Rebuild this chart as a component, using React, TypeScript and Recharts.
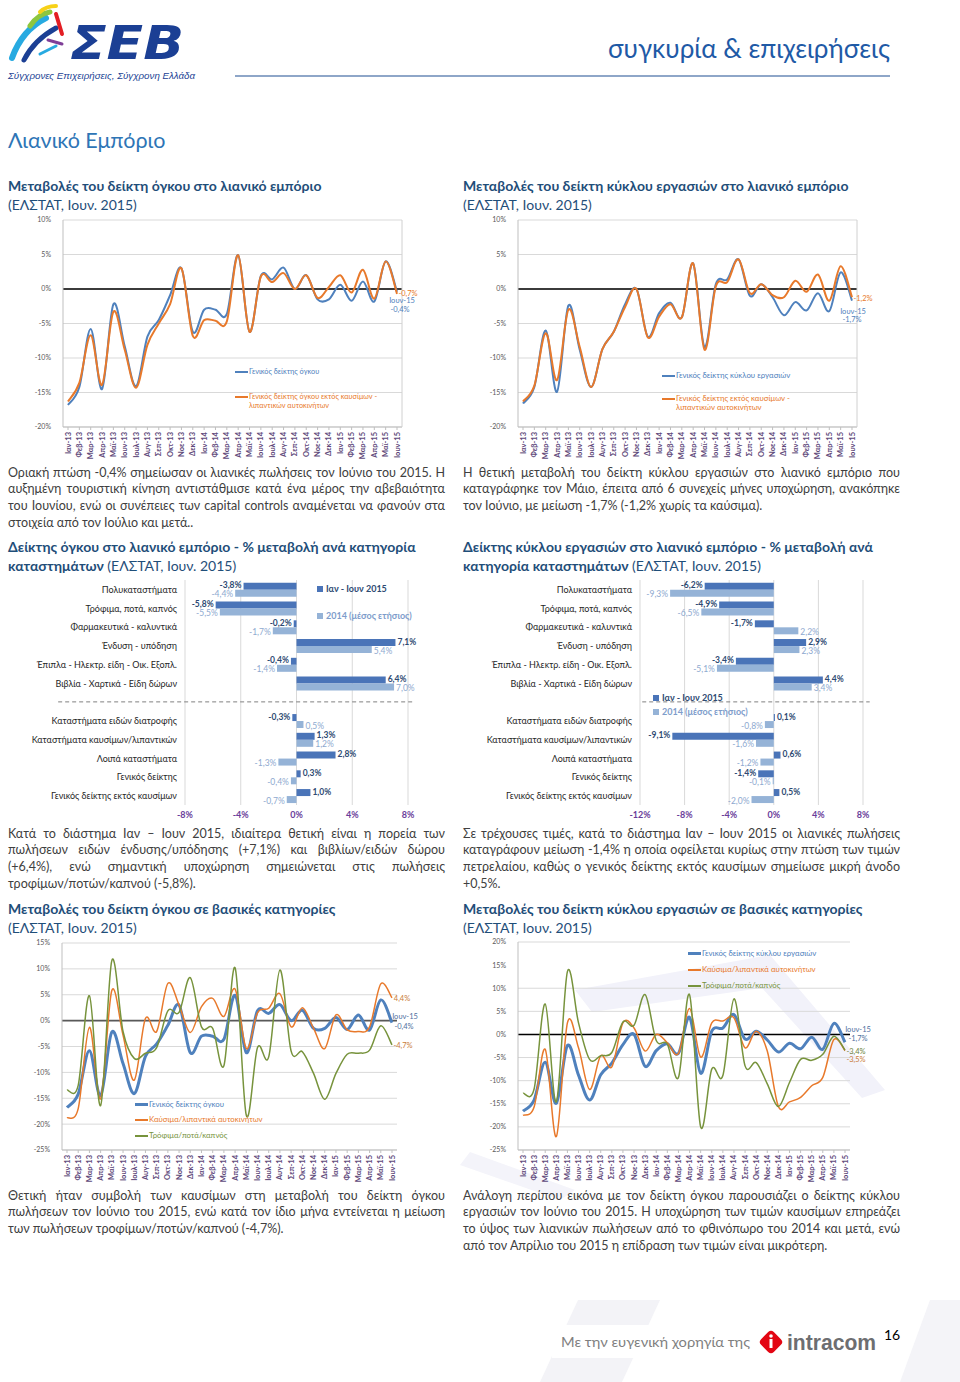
import React from "react";
import {
  Bar,
  BarChart,
  CartesianGrid,
  LabelList,
  Legend,
  Line,
  LineChart,
  ReferenceLine,
  XAxis,
  YAxis,
} from "recharts";

const FONT = 'Lato, "Open Sans", "DejaVu Sans", sans-serif';

// ---- data -------------------------------------------------------------

const months = [
  "Ιαν-13", "Φεβ-13", "Μαρ-13", "Απρ-13", "Μαϊ-13", "Ιουν-13", "Ιουλ-13", "Αυγ-13",
  "Σεπ-13", "Οκτ-13", "Νοε-13", "Δεκ-13", "Ιαν-14", "Φεβ-14", "Μαρ-14", "Απρ-14",
  "Μαϊ-14", "Ιουν-14", "Ιουλ-14", "Αυγ-14", "Σεπ-14", "Οκτ-14", "Νοε-14", "Δεκ-14",
  "Ιαν-15", "Φεβ-15", "Μαρ-15", "Απρ-15", "Μαϊ-15", "Ιουν-15",
];

const volumeGeneral = [
  -16.8, -14.2, -5.8, -14.5, -2.2, -8.3, -14.1, -6.9, -4.5, -0.9, 3.0, -6.2, -3.0, -3.0, -3.6,
  4.9, -6.2, 1.9, 1.4, 3.1, 0.0, 2.0, -1.5, -1.5, 0.6, -1.7, 1.1, -1.8, 4.0, -0.4,
];
const volumeExFuel = [
  -16.3, -13.6, -6.7, -13.9, -3.3, -8.8, -14.3, -8.1, -5.0, -2.2, 3.0, -6.8, -4.5, -4.6, -4.7,
  4.9, -6.2, 1.8, 1.0, 2.3, 0.0, 2.0, -1.3, 0.3, 2.0, -0.5, 2.8, -1.4, 4.0, -0.7,
];
const turnoverGeneral = [
  -16.6, -14.2, -6.0, -14.9, -2.4, -8.8, -14.2, -8.7, -6.2, -2.2, 0.0, -6.9, -3.5, -2.0, -4.1,
  3.7, -8.4, 0.7, 1.4, 4.3, -1.0, 0.7, -1.2, -3.8, -1.9, -3.1, -0.6, -3.2, 2.4, -1.7,
];
const turnoverExFuel = [
  -16.3, -14.0, -6.4, -13.2, -3.0, -8.4, -14.2, -8.7, -6.2, -2.6, 0.0, -7.0, -4.0, -2.2, -4.1,
  3.7, -8.8, 0.4, 1.0, 4.3, -0.6, 0.7, -0.9, -1.2, 1.2, -0.4, 2.1, -1.7, 3.3, -1.2,
];
const volumeFuel = [
  -18.8, -17.0, -1.3, -15.1, 5.8, -2.8, -11.5, 0.4, -2.1, 7.2, 3.0, -2.3, 2.7, 4.3, 0.8,
  6.1, -5.4, 1.5, 2.4, 5.2, -1.2, 2.5, -1.5, -5.4, 1.1, -1.8, -2.1, -1.2, 7.1, 4.4,
];
const volumeFood = [
  -13.4, -12.5, 4.8, -16.4, 11.6, -2.1, -7.3, -6.3, -5.2, 1.9, 1.6, 8.3, -1.2, -1.5, -8.7,
  10.2, -18.3, -5.2, -7.0, 9.8, -5.9, -6.0, -10.2, -15.2, -10.2, -6.5, -6.3, -5.7, -1.0, -4.7,
];
const turnoverFuel = [
  -17.5, -15.7, -3.2, -22.1, 2.5, -2.9, -11.9, -4.6, -7.0, 2.5, 1.4, -3.6, 0.0, -1.8, -4.1,
  5.6, -4.9, 2.5, 2.9, 3.6, -2.9, 0.7, -3.6, -15.6, -14.6, -13.6, -11.1, -9.3, -1.1, -3.5,
];
const turnoverFood = [
  -12.7, -11.8, 6.6, -14.6, 13.6, 2.5, -5.4, -4.6, -3.9, 2.7, 2.0, 8.6, -1.3, -2.1, -9.3,
  8.6, -20.0, -7.5, -8.9, 7.7, -6.8, -6.1, -10.7, -15.6, -10.4, -5.4, -5.6, -4.3, -0.4, -3.4,
];

const storeCategories = [
  "Πολυκαταστήματα",
  "Τρόφιμα, ποτά, καπνός",
  "Φαρμακευτικά - καλυντικά",
  "Ένδυση - υπόδηση",
  "Έπιπλα - Ηλεκτρ. είδη - Οικ. Εξοπλ.",
  "Βιβλία - Χαρτικά - Είδη δώρων",
  "Καταστήματα ειδών διατροφής",
  "Καταστήματα καυσίμων/λιπαντικών",
  "Λοιπά καταστήματα",
  "Γενικός δείκτης",
  "Γενικός δείκτης εκτός καυσίμων",
];
const volumeH1_2015 = [-3.8, -5.8, -0.2, 7.1, -0.4, 6.4, -0.3, 1.3, 2.8, 0.3, 1.0];
const volumeAvg2014 = [-4.4, -5.5, -1.7, 5.4, -1.4, 7.0, 0.5, 1.2, -1.3, -0.4, -0.7];
const turnoverH1_2015 = [-6.2, -4.9, -1.7, 2.9, -3.4, 4.4, 0.1, -9.1, 0.6, -1.4, 0.5];
const turnoverAvg2014 = [-9.3, -6.5, 2.2, 2.3, -5.1, 3.4, -0.8, -1.6, -1.2, -0.1, -2.0];
const barSeriesNames = ["Ιαν - Ιουν 2015", "2014 (μέσος ετήσιος)"];

const volumeTicks = [-20, -15, -10, -5, 0, 5, 10];
const volumeCatTicks = [-25, -20, -15, -10, -5, 0, 5, 10, 15];
const turnoverCatTicks = [-25, -20, -15, -10, -5, 0, 5, 10, 15, 20];
const volumeBarTicks = [-8, -4, 0, 4, 8];
const turnoverBarTicks = [-12, -8, -4, 0, 4, 8];

// ---- styling ------------------------------------------------------------

const BLUE = "#4F81BD";
const ORANGE = "#E8792B";
const GREEN = "#77933C";
const BAR_DARK = "#4A74B8";
const BAR_LIGHT = "#95B3D7";
const TICK_PURPLE = "#60497A";
const TITLE_BLUE = "#1F4E79";
const TEXT_GRAY = "#404040";
const SEP = " ";

const fmt = (v: number) => v.toFixed(1).replace(".", ",") + "%";
const pct = (v: number) => `${v}%`;

// Excel-like smoothed line (Catmull-Rom through the points)
const excelSmooth = (context: any) => {
  let pts: number[][] = [];
  return {
    areaStart() {},
    areaEnd() {},
    lineStart() {
      pts = [];
    },
    point(x: number, y: number) {
      pts.push([+x, +y]);
    },
    lineEnd() {
      const n = pts.length;
      if (!n) return;
      context.moveTo(pts[0][0], pts[0][1]);
      for (let i = 0; i < n - 1; i++) {
        const p0 = pts[Math.max(i - 1, 0)];
        const p1 = pts[i];
        const p2 = pts[i + 1];
        const p3 = pts[Math.min(i + 2, n - 1)];
        context.bezierCurveTo(
          p1[0] + (p2[0] - p0[0]) / 6,
          p1[1] + (p2[1] - p0[1]) / 6,
          p2[0] - (p3[0] - p1[0]) / 6,
          p2[1] - (p3[1] - p1[1]) / 6,
          p2[0],
          p2[1]
        );
      }
    },
  };
};

// ---- line charts ----------------------------------------------------------

type EndLabel = { text: string; dx: number; dy: number; color?: string };
type SeriesSpec = {
  key: string;
  name: string[];
  color: string;
  width: number;
  values: number[];
  labels: EndLabel[];
};

const MonthTick = (props: any) => {
  const { x, y, payload } = props;
  return (
    <text
      x={x}
      y={y}
      transform={`rotate(-90 ${x} ${y})`}
      textAnchor="end"
      dominantBaseline="central"
      fontSize={7.5}
      fontWeight={700}
      fill={TICK_PURPLE}
    >
      {payload.value}
    </text>
  );
};

function TrendChart(props: {
  left: number;
  top: number;
  width: number;
  height: number;
  margin: { top: number; right: number; bottom: number; left: number };
  yWidth: number;
  domain: [number, number];
  ticks: number[];
  series: SeriesSpec[];
  zeroColor: string;
  border: boolean;
  legend: { left: number; top: number; gap: number; fontSize: number; bold?: boolean };
}) {
  const { series, legend } = props;
  const last = months.length - 1;
  const data = months.map((m, i) => {
    const row: any = { month: m };
    series.forEach((s) => (row[s.key] = s.values[i]));
    return row;
  });
  const lh = legend.fontSize + 3;

  const endDot = (s: SeriesSpec) => (p: any) => {
    if (p.index !== last) return <g key={`d${p.index}`} />;
    return (
      <g key={`d${p.index}`}>
        {s.labels.map((l, j) => (
          <text
            key={j}
            x={p.cx + l.dx}
            y={p.cy + l.dy}
            textAnchor="middle"
            dominantBaseline="central"
            fontSize={7.5}
            fill={l.color ?? s.color}
          >
            {l.text}
          </text>
        ))}
      </g>
    );
  };

  return (
    <div style={{ position: "absolute", left: props.left, top: props.top }}>
      <LineChart width={props.width} height={props.height} data={data} margin={props.margin}>
        <CartesianGrid vertical={false} stroke="#D9D9D9" />
        <XAxis
          dataKey="month"
          interval={0}
          height={35}
          padding={{ left: 5, right: 5 }}
          stroke="#BFBFBF"
          tickSize={3}
          tickMargin={2}
          tick={<MonthTick />}
        />
        <YAxis
          width={props.yWidth}
          domain={props.domain}
          ticks={props.ticks}
          tickFormatter={pct}
          stroke="#BFBFBF"
          tickLine={false}
          tickMargin={6}
          tick={{ fontSize: 7, fill: "#595959" }}
        />
        {props.border && (
          <YAxis yAxisId="frame" orientation="right" width={1} tick={false} tickLine={false} stroke="#D0D0D0" />
        )}
        <ReferenceLine y={0} stroke={props.zeroColor} strokeWidth={1.6} />
        {series.map((s) => (
          <Line
            key={s.key}
            dataKey={s.key}
            type={excelSmooth as any}
            stroke={s.color}
            strokeWidth={s.width}
            dot={endDot(s)}
            activeDot={false}
            isAnimationActive={false}
          />
        ))}
        <Legend
          layout="horizontal"
          verticalAlign="middle"
          align="center"
          wrapperStyle={{ left: legend.left, top: legend.top - lh / 2, width: 220, height: 0 }}
          content={() => (
            <div style={{ position: "relative", fontSize: legend.fontSize, fontFamily: FONT }}>
              {series.map((s, i) => (
                <div
                  key={s.key}
                  style={{
                    position: "absolute",
                    left: 0,
                    top: i * legend.gap,
                    whiteSpace: "nowrap",
                    color: s.color,
                    lineHeight: `${lh}px`,
                    fontWeight: legend.bold ? 700 : 400,
                  }}
                >
                  {s.name.map((line, j) => (
                    <div key={j} style={{ lineHeight: j ? `${lh - 2}px` : `${lh}px` }}>
                      <span
                        style={{
                          display: "inline-block",
                          width: 13,
                          height: Math.max(s.width, 2),
                          marginRight: 1,
                          verticalAlign: "middle",
                          background: j ? "transparent" : s.color,
                        }}
                      />
                      {line}
                    </div>
                  ))}
                </div>
              ))}
            </div>
          )}
        />
      </LineChart>
    </div>
  );
}

// ---- bar charts -----------------------------------------------------------

const barLabel = (fill: string, weight: number, shift: number) => (p: any) => {
  const { x, y, width, height, value } = p;
  if (value == null) return null;
  const lo = Math.min(x, x + width);
  const hi = Math.max(x, x + width);
  const neg = value < 0;
  return (
    <text
      x={neg ? lo - 2 : hi + 2}
      y={y + height / 2 + shift}
      textAnchor={neg ? "end" : "start"}
      dominantBaseline="central"
      fontSize={8.5}
      fontWeight={weight}
      fill={fill}
    >
      {fmt(value)}
    </text>
  );
};

const CategoryTick = (props: any) => {
  const { x, y, payload } = props;
  return (
    <text x={x} y={y} textAnchor="end" dominantBaseline="central" fontSize={9} fill="#262626">
      {payload.value}
    </text>
  );
};

function CategoryBars(props: {
  left: number;
  current: number[];
  previous: number[];
  domain: [number, number];
  ticks: number[];
  yWidth: number;
  right: number;
  sepFrom: number;
  sepTo: number;
  legendLeft: number;
  legendTop: number;
  legendGap: number;
}) {
  const rows: any[] = [];
  storeCategories.forEach((c, i) => {
    if (i === 6) rows.push({ name: SEP, current: null, previous: null });
    rows.push({ name: c, current: props.current[i], previous: props.previous[i] });
  });
  const colors = [BAR_DARK, BAR_LIGHT];
  const textColors = ["#2E4A72", "#7E9DCB"];
  return (
    <div style={{ position: "absolute", left: props.left, top: 575 }}>
      <BarChart
        layout="vertical"
        width={440}
        height={250}
        data={rows}
        margin={{ top: 5, right: props.right, bottom: 0, left: 0 }}
        barCategoryGap="15%"
        barGap={0}
      >
        <CartesianGrid horizontal={false} stroke="#D9D9D9" />
        <XAxis
          type="number"
          domain={props.domain}
          ticks={props.ticks}
          tickFormatter={pct}
          axisLine={false}
          tickLine={false}
          tickSize={0}
          tickMargin={7}
          height={20}
          tick={{ fontSize: 9, fontWeight: 700, fill: "#6A3D9A" }}
        />
        <YAxis
          type="category"
          dataKey="name"
          width={props.yWidth}
          interval={0}
          axisLine={false}
          tickLine={false}
          tickSize={0}
          tickMargin={8}
          tick={<CategoryTick />}
        />
        <ReferenceLine
          segment={[
            { x: props.sepFrom, y: SEP },
            { x: props.sepTo, y: SEP },
          ]}
          ifOverflow="visible"
          stroke="#808080"
          strokeDasharray="4 3"
        />
        <Bar dataKey="current" fill={BAR_DARK} isAnimationActive={false}>
          <LabelList dataKey="current" content={barLabel("#2E4A72", 700, -1)} />
        </Bar>
        <Bar dataKey="previous" fill={BAR_LIGHT} isAnimationActive={false}>
          <LabelList dataKey="previous" content={barLabel("#8EA9CF", 400, 1)} />
        </Bar>
        <Legend
          layout="horizontal"
          verticalAlign="middle"
          align="center"
          wrapperStyle={{ left: props.legendLeft, top: props.legendTop - 6, width: 120, height: 0 }}
          content={() => (
            <div style={{ position: "relative", fontSize: 9, fontWeight: 700, fontFamily: FONT }}>
              {barSeriesNames.map((n, i) => (
                <div
                  key={n}
                  style={{
                    position: "absolute",
                    top: i * props.legendGap,
                    left: 0,
                    whiteSpace: "nowrap",
                    lineHeight: "12px",
                    color: textColors[i],
                  }}
                >
                  <span
                    style={{
                      display: "inline-block",
                      width: 6,
                      height: 6,
                      marginRight: 3,
                      background: colors[i],
                    }}
                  />
                  {n}
                </div>
              ))}
            </div>
          )}
        />
      </BarChart>
    </div>
  );
}

// ---- page text ------------------------------------------------------------

function Para({ x, y, lines }: { x: number; y: number; lines: string[] }) {
  return (
    <div style={{ position: "absolute", left: x, top: y, width: 437, fontSize: 12.5, color: TEXT_GRAY }}>
      {lines.map((l, i) => (
        <div
          key={i}
          style={{
            height: 16.7,
            lineHeight: "16.7px",
            textAlign: "justify",
            textAlignLast: i < lines.length - 1 ? "justify" : "left",
          }}
        >
          {l}
        </div>
      ))}
    </div>
  );
}

function Heading({ x, y, lines }: { x: number; y: number; lines: { t: string; b: boolean }[][] }) {
  return (
    <div style={{ position: "absolute", left: x, top: y, fontSize: 14, color: TITLE_BLUE, whiteSpace: "nowrap" }}>
      {lines.map((segs, i) => (
        <div key={i} style={{ height: 19, lineHeight: "19px" }}>
          {segs.map((s, j) => (
            <span key={j} style={{ fontWeight: s.b ? 700 : 400 }}>
              {s.t}
            </span>
          ))}
        </div>
      ))}
    </div>
  );
}

function Header() {
  return (
    <svg width={960} height={90} style={{ position: "absolute", left: 0, top: 0 }}>
      <path d="M12 58 Q22 30 46 18" stroke="#27AAE1" strokeWidth={6} fill="none" strokeLinecap="round" />
      <path d="M24 60 Q34 40 56 28" stroke="#1B3F94" strokeWidth={5} fill="none" strokeLinecap="round" />
      <path d="M30 26 Q38 14 50 12" stroke="#8DC63F" strokeWidth={5} fill="none" strokeLinecap="round" />
      <path d="M40 12 Q46 6 56 6" stroke="#F7D117" strokeWidth={4} fill="none" strokeLinecap="round" />
      <path d="M56 14 L62 34" stroke="#E31E24" strokeWidth={4} fill="none" strokeLinecap="round" />
      <path d="M48 40 L62 44" stroke="#7F3F98" strokeWidth={3} fill="none" strokeLinecap="round" />
      <path d="M40 54 L56 46" stroke="#27AAE1" strokeWidth={3} fill="none" strokeLinecap="round" />
      <text
        x={70}
        y={59}
        fontSize={47}
        fontWeight={700}
        fontStyle="italic"
        fill="#1B3F94"
        fontFamily='"DejaVu Sans", sans-serif'
        textLength={114}
        lengthAdjust="spacingAndGlyphs"
      >
        ΣΕΒ
      </text>
      <text
        x={8}
        y={79}
        fontSize={9.5}
        fontStyle="italic"
        fill="#1B3F94"
        fontFamily='"Liberation Sans Narrow", "Liberation Sans", sans-serif'
        textLength={187}
        lengthAdjust="spacingAndGlyphs"
      >
        Σύγχρονες Επιχειρήσεις, Σύγχρονη Ελλάδα
      </text>
      <text x={608} y={58} fontSize={26} fill="#1F5AA6" fontFamily={FONT} textLength={282} lengthAdjust="spacingAndGlyphs">
        συγκυρία &amp; επιχειρήσεις
      </text>
      <line x1={235} y1={76} x2={890} y2={76} stroke="#8EA6C8" strokeWidth={2} />
    </svg>
  );
}

function Footer() {
  return (
    <svg width={960} height={90} style={{ position: "absolute", left: 0, top: 1292 }}>
      <polygon points="540,90 578,8 660,8 622,90" fill="#F3F3F7" />
      <polygon points="900,90 930,8 960,8 960,90" fill="#F4F4F8" />
      <rect x={552} y={33} width={328} height={33} fill="#FFFFFF" />
      <text x={561} y={55} fontSize={14} fill="#7F7F7F" fontFamily={FONT} textLength={189} lengthAdjust="spacingAndGlyphs">
        Με την ευγενική χορηγία της
      </text>
      <rect x={762} y={41} width={18} height={18} rx={4} fill="#E30613" transform="rotate(45 771 50)" />
      <circle cx={771} cy={44} r={1.8} fill="#FFFFFF" />
      <rect x={769.5} y={47} width={3} height={9} fill="#FFFFFF" />
      <text
        x={787}
        y={58}
        fontSize={22}
        fontWeight={900}
        fill="#6D6E71"
        fontFamily='"Liberation Sans", sans-serif'
        textLength={89}
        lengthAdjust="spacingAndGlyphs"
      >
        intracom
      </text>
      <text x={884} y={48} fontSize={14} fill="#000000" fontFamily={FONT}>
        16
      </text>
    </svg>
  );
}

// ---- page -----------------------------------------------------------------

export default function App() {
  const L = months.length - 1;
  return (
    <div
      style={{
        position: "absolute",
        left: 0,
        top: 0,
        width: 960,
        height: 1382,
        background: "#FFFFFF",
        overflow: "hidden",
        fontFamily: FONT,
      }}
    >
      <svg width={960} height={300} style={{ position: "absolute", left: 0, top: 940 }}>
        <polygon points="575,50 770,15 885,150 862,158 762,48 592,72" fill="#F2F2FA" />
        <polygon points="460,225 470,212 575,250 560,260" fill="#F4F4FA" />
      </svg>
      <Header />

      <div style={{ position: "absolute", left: 8, top: 126, fontSize: 21.5, color: "#2E75B6", lineHeight: "28px" }}>
        Λιανικό Εμπόριο
      </div>

      <Heading
        x={8}
        y={175.5}
        lines={[
          [{ t: "Μεταβολές του δείκτη όγκου στο λιανικό εμπόριο", b: true }],
          [{ t: "(ΕΛΣΤΑΤ, Ιουν. 2015)", b: false }],
        ]}
      />
      <Heading
        x={463}
        y={175.5}
        lines={[
          [{ t: "Μεταβολές του δείκτη κύκλου εργασιών στο λιανικό εμπόριο", b: true }],
          [{ t: "(ΕΛΣΤΑΤ, Ιουν. 2015)", b: false }],
        ]}
      />

      <TrendChart
        left={0}
        top={210}
        width={420}
        height={252}
        margin={{ top: 10, right: 17, bottom: 0, left: 0 }}
        yWidth={63}
        domain={[-20, 10]}
        ticks={volumeTicks}
        zeroColor="#000000"
        border
        legend={{ left: 235, top: 162, gap: 25, fontSize: 7.3 }}
        series={[
          {
            key: "general",
            name: ["Γενικός δείκτης όγκου"],
            color: BLUE,
            width: 2,
            values: volumeGeneral,
            labels: [
              { text: months[L], dx: 5, dy: 9 },
              { text: fmt(volumeGeneral[L]), dx: 3, dy: 18 },
            ],
          },
          {
            key: "exFuel",
            name: ["Γενικός δείκτης όγκου εκτός καυσίμων -", "λιπαντικών αυτοκινήτων"],
            color: ORANGE,
            width: 2,
            values: volumeExFuel,
            labels: [{ text: fmt(volumeExFuel[L]), dx: 11, dy: 0 }],
          },
        ]}
      />
      <TrendChart
        left={460}
        top={210}
        width={420}
        height={252}
        margin={{ top: 10, right: 22, bottom: 0, left: 0 }}
        yWidth={58}
        domain={[-20, 10]}
        ticks={volumeTicks}
        zeroColor="#000000"
        border
        legend={{ left: 202, top: 165, gap: 23, fontSize: 7.8 }}
        series={[
          {
            key: "general",
            name: ["Γενικός δείκτης κύκλου εργασιών"],
            color: BLUE,
            width: 2,
            values: turnoverGeneral,
            labels: [
              { text: months[L], dx: 1, dy: 11 },
              { text: fmt(turnoverGeneral[L]), dx: 0, dy: 19 },
            ],
          },
          {
            key: "exFuel",
            name: ["Γενικός δείκτης εκτός καυσίμων -", "λιπαντικών αυτοκινήτων"],
            color: ORANGE,
            width: 2,
            values: turnoverExFuel,
            labels: [{ text: fmt(turnoverExFuel[L]), dx: 11, dy: 1 }],
          },
        ]}
      />

      <Para
        x={8}
        y={464.5}
        lines={[
          "Οριακή πτώση -0,4% σημείωσαν οι λιανικές πωλήσεις τον Ιούνιο του 2015. Η",
          "αυξημένη τουριστική κίνηση αντιστάθμισε κατά ένα μέρος την αβεβαιότητα",
          "του Ιουνίου, ενώ οι συνέπειες των capital controls αναμένεται να φανούν στα",
          "στοιχεία από τον Ιούλιο και μετά..",
        ]}
      />
      <Para
        x={463}
        y={464.5}
        lines={[
          "Η θετική μεταβολή του δείκτη κύκλου εργασιών στο λιανικό εμπόριο που",
          "καταγράφηκε τον Μάιο, έπειτα από 6 συνεχείς μήνες υποχώρηση, ανακόπηκε",
          "τον Ιούνιο, με μείωση -1,7% (-1,2% χωρίς τα καύσιμα).",
        ]}
      />

      <Heading
        x={8}
        y={536.5}
        lines={[
          [{ t: "Δείκτης όγκου στο λιανικό εμπόριο  - % μεταβολή ανά κατηγορία", b: true }],
          [
            { t: "καταστημάτων", b: true },
            { t: " (ΕΛΣΤΑΤ, Ιουν. 2015)", b: false },
          ],
        ]}
      />
      <Heading
        x={463}
        y={536.5}
        lines={[
          [{ t: "Δείκτης κύκλου εργασιών στο λιανικό εμπόριο  - % μεταβολή ανά", b: true }],
          [
            { t: "κατηγορία καταστημάτων", b: true },
            { t: " (ΕΛΣΤΑΤ, Ιουν. 2015)", b: false },
          ],
        ]}
      />

      <CategoryBars
        left={0}
        current={volumeH1_2015}
        previous={volumeAvg2014}
        domain={[-8, 8]}
        ticks={volumeBarTicks}
        yWidth={185}
        right={32}
        sepFrom={-17.1}
        sepTo={8.5}
        legendLeft={317}
        legendTop={14}
        legendGap={27}
      />
      <CategoryBars
        left={460}
        current={turnoverH1_2015}
        previous={turnoverAvg2014}
        domain={[-12, 8]}
        ticks={turnoverBarTicks}
        yWidth={180}
        right={37}
        sepFrom={-11.8}
        sepTo={8.6}
        legendLeft={193}
        legendTop={123}
        legendGap={14}
      />

      <Para
        x={8}
        y={825.5}
        lines={[
          "Κατά το διάστημα Ιαν – Ιουν 2015, ιδιαίτερα θετική είναι η πορεία των",
          "πωλήσεων ειδών ένδυσης/υπόδησης (+7,1%) και βιβλίων/ειδών δώρου",
          "(+6,4%), ενώ σημαντική υποχώρηση σημειώνεται στις πωλήσεις",
          "τροφίμων/ποτών/καπνού (-5,8%).",
        ]}
      />
      <Para
        x={463}
        y={825.5}
        lines={[
          "Σε τρέχουσες τιμές, κατά το διάστημα Ιαν – Ιουν 2015 οι λιανικές πωλήσεις",
          "καταγράφουν μείωση -1,4% η οποία οφείλεται κυρίως στην πτώση των τιμών",
          "πετρελαίου, καθώς ο γενικός δείκτης εκτός καυσίμων σημείωσε μικρή άνοδο",
          "+0,5%.",
        ]}
      />

      <Heading
        x={8}
        y={898.5}
        lines={[
          [{ t: "Μεταβολές του δείκτη όγκου σε βασικές κατηγορίες", b: true }],
          [{ t: "(ΕΛΣΤΑΤ, Ιουν. 2015)", b: false }],
        ]}
      />
      <Heading
        x={463}
        y={898.5}
        lines={[
          [{ t: "Μεταβολές του δείκτη κύκλου εργασιών σε βασικές κατηγορίες", b: true }],
          [{ t: "(ΕΛΣΤΑΤ, Ιουν. 2015)", b: false }],
        ]}
      />

      <TrendChart
        left={0}
        top={935}
        width={420}
        height={250}
        margin={{ top: 8, right: 23, bottom: 0, left: 0 }}
        yWidth={62}
        domain={[-25, 15]}
        ticks={volumeCatTicks}
        zeroColor="#595959"
        border={false}
        legend={{ left: 135, top: 169, gap: 15.5, fontSize: 7.8 }}
        series={[
          {
            key: "general",
            name: ["Γενικός δείκτης όγκου"],
            color: BLUE,
            width: 3,
            values: volumeGeneral,
            labels: [
              { text: months[L], dx: 13, dy: -6, color: "#4F6FA0" },
              { text: fmt(volumeGeneral[L]), dx: 12, dy: 4, color: "#4F6FA0" },
            ],
          },
          {
            key: "fuel",
            name: ["Καύσιμα/λιπαντικά αυτοκινήτων"],
            color: ORANGE,
            width: 1.5,
            values: volumeFuel,
            labels: [{ text: fmt(volumeFuel[L]), dx: 10, dy: 1, color: "#C97B3A" }],
          },
          {
            key: "food",
            name: ["Τρόφιμα/ποτά/καπνός"],
            color: GREEN,
            width: 1.5,
            values: volumeFood,
            labels: [{ text: fmt(volumeFood[L]), dx: 11, dy: 1, color: "#C97B3A" }],
          },
        ]}
      />
      <TrendChart
        left={460}
        top={935}
        width={420}
        height={250}
        margin={{ top: 7, right: 30, bottom: 0, left: 0 }}
        yWidth={58}
        domain={[-25, 20]}
        ticks={turnoverCatTicks}
        zeroColor="#000000"
        border={false}
        legend={{ left: 228, top: 18, gap: 16, fontSize: 7.8 }}
        series={[
          {
            key: "general",
            name: ["Γενικός δείκτης κύκλου εργασιών"],
            color: BLUE,
            width: 3,
            values: turnoverGeneral,
            labels: [
              { text: months[L], dx: 13, dy: -13, color: "#4F6FA0" },
              { text: fmt(turnoverGeneral[L]), dx: 13, dy: -4, color: "#4F6FA0" },
            ],
          },
          {
            key: "fuel",
            name: ["Καύσιμα/λιπαντικά αυτοκινήτων"],
            color: ORANGE,
            width: 1.5,
            values: turnoverFuel,
            labels: [{ text: fmt(turnoverFuel[L]), dx: 11, dy: 9, color: "#C97B3A" }],
          },
          {
            key: "food",
            name: ["Τρόφιμα/ποτά/καπνός"],
            color: GREEN,
            width: 1.5,
            values: turnoverFood,
            labels: [{ text: fmt(turnoverFood[L]), dx: 11, dy: 1, color: "#6B7F3A" }],
          },
        ]}
      />

      <Para
        x={8}
        y={1187.5}
        lines={[
          "Θετική ήταν συμβολή των καυσίμων στη μεταβολή του δείκτη όγκου",
          "πωλήσεων τον Ιούνιο του 2015, ενώ κατά τον ίδιο μήνα εντείνεται η μείωση",
          "των πωλήσεων τροφίμων/ποτών/καπνού (-4,7%).",
        ]}
      />
      <Para
        x={463}
        y={1187.5}
        lines={[
          "Ανάλογη περίπου εικόνα με τον δείκτη όγκου παρουσιάζει ο δείκτης κύκλου",
          "εργασιών τον Ιούνιο του 2015. Η υποχώρηση των τιμών καυσίμων επηρεάζει",
          "το ύψος των λιανικών πωλήσεων από το φθινόπωρο του 2014 και μετά, ενώ",
          "από τον Απρίλιο του 2015 η επίδραση των τιμών είναι μικρότερη.",
        ]}
      />

      <Footer />
    </div>
  );
}
